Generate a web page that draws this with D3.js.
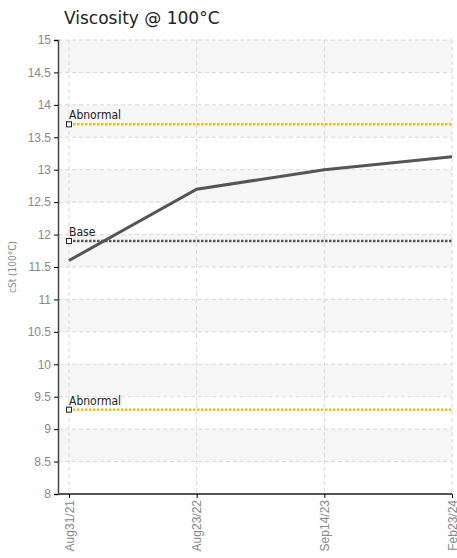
<!DOCTYPE html>
<html><head><meta charset="utf-8">
<script src="https://cdn.jsdelivr.net/npm/d3@7"></script>
<style>body{margin:0;background:#fff;font-family:"DejaVu Sans Condensed","Liberation Sans Narrow",sans-serif}</style>
</head><body><svg id="c" width="457" height="558"></svg>
<script>
const dates = ["Aug31/21", "Aug23/22", "Sep14/23", "Feb23/24"];
const viscosity = [11.6, 12.7, 13.0, 13.2];
const limitNames = ["Abnormal", "Base", "Abnormal"];
const limitValues = [13.7, 11.9, 9.3];
const limitColors = ["#f5c400", "#555", "#f5c400"];
const yTicks = d3.range(8, 15.01, 0.5);

const svg = d3.select("#c");
const L = 58, R = 452, T = 40, B = 494;
const x = d3.scalePoint().domain(dates).range([69, R]);
const y = d3.scaleLinear().domain([8, 15]).range([B, T]);

svg.append("text").attr("x", 64).attr("y", 24).attr("font-family", "Verdana, DejaVu Sans, sans-serif")
  .attr("font-size", 17).attr("fill", "#222").text("Viscosity @ 100°C");

// bands
yTicks.slice(0, -1).forEach((v, i) => {
  if ((13 - i) % 2 === 0) svg.append("rect").attr("x", L).attr("y", y(v + 0.5)).attr("width", R - L).attr("height", y(v) - y(v + 0.5)).attr("fill", "#f6f6f6");
});
// grid
svg.selectAll(".hg").data(yTicks).enter().append("line").attr("x1", L).attr("x2", R)
  .attr("y1", d => y(d)).attr("y2", d => y(d)).attr("stroke", "#d8d8d8").attr("stroke-dasharray", "4,3");
svg.selectAll(".vg").data(dates).enter().append("line").attr("y1", T).attr("y2", B)
  .attr("x1", d => x(d)).attr("x2", d => x(d)).attr("stroke", "#d8d8d8").attr("stroke-dasharray", "4,3");

const ya = svg.append("g").attr("transform", `translate(${L},0)`)
  .call(d3.axisLeft(y).tickValues(yTicks).tickSize(4).tickFormat(d3.format("")));
ya.select(".domain").attr("stroke", "#444").attr("stroke-width", 1.5);
ya.selectAll("text").attr("fill", "#888").attr("font-size", 12);
const xa = svg.append("g").attr("transform", `translate(0,${B})`).call(d3.axisBottom(x).tickSize(4));
xa.select(".domain").attr("stroke", "#555").attr("stroke-width", 2).attr("d", `M${L},0H${R}`);
xa.selectAll("text").attr("fill", "#888").attr("font-size", 12)
  .attr("transform", "rotate(-90)").attr("text-anchor", "end").attr("dx", "-6").attr("dy", "0.35em").attr("x", 0).attr("y", 0);

svg.append("text").attr("transform", `translate(16,${(T + B) / 2}) rotate(-90)`).attr("text-anchor", "middle")
  .attr("font-size", 10).attr("fill", "#888").text("cSt (100°C)");

limitValues.forEach((v, i) => {
  svg.append("line").attr("x1", x(dates[0])).attr("x2", R).attr("y1", y(v)).attr("y2", y(v))
    .attr("stroke", limitColors[i]).attr("stroke-width", 2.5).attr("stroke-dasharray", "2.5,1.5");
  svg.append("rect").attr("x", x(dates[0]) - 2.5).attr("y", y(v) - 2.5).attr("width", 5).attr("height", 5)
    .attr("fill", "#fff").attr("stroke", "#222").attr("stroke-width", 1);
  svg.append("text").attr("x", x(dates[0])).attr("y", y(v) - 5).attr("font-size", 12).attr("fill", "#222").text(limitNames[i]);
});

svg.append("path").datum(viscosity).attr("fill", "none").attr("stroke", "#555").attr("stroke-width", 3)
  .attr("d", d3.line().x((d, i) => x(dates[i])).y(d => y(d)));
</script></body></html>
